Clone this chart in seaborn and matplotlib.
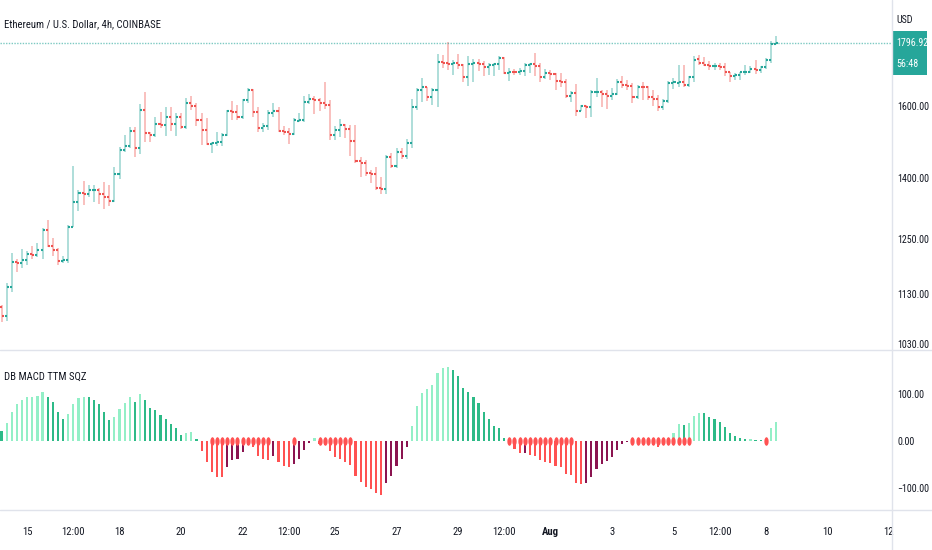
import numpy as np
import pandas as pd
import matplotlib
matplotlib.use("Agg")
import matplotlib.pyplot as plt
from matplotlib.lines import Line2D
from matplotlib.patches import Rectangle
from matplotlib.markers import MarkerStyle
from matplotlib.transforms import Affine2D
from matplotlib.ticker import FixedLocator, NullLocator
import seaborn as sns

# ETH/USD 4h bars (COINBASE)
opens = [1103, 1085, 1144, 1198, 1196, 1203, 1216, 1214, 1226, 1272,
         1235, 1226, 1201, 1203, 1279, 1340, 1361, 1359, 1368, 1369,
         1358, 1352, 1342, 1411, 1473, 1486, 1528, 1479, 1588, 1521,
         1516, 1547, 1544, 1568, 1547, 1568, 1537, 1608, 1600, 1558,
         1530, 1491, 1494, 1496, 1516, 1586, 1583, 1566, 1618, 1648,
         1581, 1535, 1541, 1578, 1585, 1528, 1525, 1519, 1556, 1559,
         1611, 1621, 1618, 1608, 1603, 1516, 1530, 1544, 1532, 1500,
         1445, 1439, 1414, 1410, 1374, 1371, 1455, 1432, 1470, 1458,
         1494, 1596, 1646, 1656, 1625, 1648, 1736, 1731, 1728, 1733,
         1724, 1689, 1729, 1731, 1728, 1719, 1726, 1729, 1748, 1699,
         1704, 1703, 1705, 1726, 1729, 1723, 1689, 1699, 1697, 1676,
         1673, 1630, 1638, 1586, 1600, 1596, 1640, 1642, 1636, 1628,
         1636, 1673, 1663, 1660, 1626, 1658, 1656, 1626, 1619, 1596,
         1615, 1670, 1668, 1673, 1663, 1687, 1744, 1733, 1726, 1721,
         1723, 1719, 1702, 1691, 1694, 1702, 1704, 1712, 1710, 1719,
         1740, 1795]
highs = [1107, 1153, 1218, 1205, 1228, 1223, 1234, 1241, 1275, 1295,
         1253, 1230, 1212, 1283, 1431, 1368, 1392, 1383, 1383, 1374,
         1389, 1383, 1428, 1483, 1516, 1539, 1539, 1606, 1640, 1525,
         1568, 1583, 1596, 1596, 1578, 1578, 1623, 1628, 1608, 1578,
         1563, 1497, 1525, 1521, 1588, 1614, 1603, 1620, 1653, 1650,
         1596, 1551, 1588, 1608, 1596, 1542, 1535, 1563, 1580, 1630,
         1636, 1630, 1623, 1673, 1618, 1540, 1561, 1547, 1544, 1544,
         1456, 1447, 1421, 1428, 1402, 1461, 1465, 1481, 1481, 1504,
         1620, 1653, 1685, 1658, 1653, 1761, 1758, 1802, 1740, 1761,
         1729, 1755, 1744, 1744, 1737, 1731, 1733, 1755, 1751, 1717,
         1714, 1717, 1731, 1733, 1763, 1733, 1714, 1710, 1701, 1699,
         1680, 1643, 1666, 1603, 1603, 1648, 1685, 1648, 1648, 1653,
         1680, 1691, 1679, 1668, 1663, 1673, 1660, 1648, 1633, 1620,
         1676, 1685, 1726, 1726, 1691, 1755, 1758, 1751, 1737, 1731,
         1733, 1733, 1704, 1699, 1704, 1726, 1723, 1740, 1723, 1748,
         1804, 1821]
lows = [1073, 1075, 1134, 1177, 1184, 1192, 1204, 1209, 1206, 1231,
        1212, 1192, 1195, 1197, 1278, 1318, 1332, 1351, 1338, 1334,
        1322, 1330, 1340, 1397, 1470, 1479, 1455, 1463, 1497, 1497,
        1511, 1535, 1513, 1528, 1513, 1532, 1532, 1588, 1542, 1488,
        1488, 1467, 1484, 1484, 1514, 1558, 1559, 1561, 1608, 1566,
        1523, 1523, 1530, 1566, 1523, 1516, 1491, 1517, 1552, 1552,
        1606, 1576, 1586, 1590, 1502, 1502, 1511, 1507, 1458, 1439,
        1403, 1405, 1388, 1369, 1359, 1359, 1425, 1425, 1449, 1449,
        1481, 1588, 1610, 1613, 1603, 1596, 1717, 1711, 1694, 1714,
        1673, 1660, 1673, 1706, 1691, 1694, 1691, 1711, 1697, 1676,
        1694, 1694, 1691, 1699, 1691, 1673, 1682, 1679, 1646, 1657,
        1623, 1610, 1570, 1584, 1564, 1568, 1627, 1596, 1590, 1618,
        1633, 1653, 1648, 1609, 1620, 1618, 1618, 1600, 1586, 1588,
        1609, 1650, 1658, 1658, 1658, 1673, 1726, 1721, 1710, 1710,
        1710, 1691, 1673, 1679, 1679, 1694, 1699, 1697, 1701, 1712,
        1733, 1794]
closes = [1085, 1144, 1198, 1196, 1203, 1216, 1214, 1226, 1272, 1235,
          1226, 1201, 1203, 1279, 1340, 1361, 1359, 1368, 1369, 1358,
          1352, 1342, 1411, 1473, 1486, 1528, 1479, 1588, 1521, 1516,
          1547, 1544, 1568, 1547, 1568, 1537, 1608, 1600, 1558, 1530,
          1491, 1494, 1496, 1516, 1586, 1583, 1566, 1618, 1648, 1581,
          1535, 1541, 1578, 1585, 1528, 1525, 1519, 1558, 1559, 1611,
          1621, 1618, 1608, 1603, 1516, 1530, 1544, 1532, 1500, 1445,
          1439, 1414, 1410, 1374, 1371, 1455, 1432, 1470, 1458, 1494,
          1596, 1646, 1656, 1625, 1648, 1734, 1731, 1728, 1733, 1724,
          1689, 1729, 1731, 1728, 1719, 1726, 1729, 1748, 1699, 1704,
          1703, 1705, 1726, 1729, 1723, 1689, 1699, 1697, 1676, 1673,
          1630, 1638, 1586, 1600, 1596, 1640, 1642, 1636, 1628, 1636,
          1673, 1663, 1660, 1626, 1658, 1656, 1626, 1619, 1596, 1615,
          1670, 1673, 1673, 1663, 1687, 1742, 1733, 1726, 1721, 1723,
          1719, 1702, 1691, 1694, 1702, 1704, 1712, 1710, 1719, 1740,
          1795, 1796.92]

# DB MACD TTM SQZ histogram
hist = [21, 39, 62, 78, 87, 93, 94, 95, 104, 94,
        82, 62, 47, 57, 78, 91, 94, 93, 87, 78,
        62, 45, 52, 68, 80, 93, 82, 101, 87, 71,
        66, 55, 46, 36, 27, 13, 18, 20, 4, -21,
        -44, -67, -76, -77, -56, -40, -39, -23, -8, -13,
        -32, -39, -40, -32, -44, -53, -56, -48, -39, -19,
        -4, 6, -6, -8, -21, -35, -39, -44, -51, -74,
        -87, -97, -103, -111, -115, -89, -74, -53, -38, -13,
        32, 74, 103, 110, 119, 144, 155, 157, 150, 138,
        112, 104, 93, 80, 62, 47, 32, 27, 6, -6,
        -16, -26, -25, -30, -31, -40, -44, -46, -53, -55,
        -70, -73, -90, -92, -90, -76, -60, -49, -42, -35,
        -19, -6, -2, -3, -4, -5, -6, -8, -12, -6,
        4, 16, 36, 35, 39, 53, 60, 59, 52, 47,
        41, 30, 18, 11, 6, 4, 5, 3, 2, 1,
        27, 40]
# squeeze-on runs (first bar, last bar)
squeeze_runs = [(41, 52), (57, 57), (62, 68), (99, 111), (123, 134), (149, 149)]

price_ticks = [1030, 1130, 1250, 1400, 1600]
osc_ticks = [-100, 0, 100]
tick_times = ["2022-07-15 00:00", "2022-07-16 12:00", "2022-07-18 00:00",
              "2022-07-20 00:00", "2022-07-22 00:00", "2022-07-23 12:00",
              "2022-07-25 00:00", "2022-07-27 00:00", "2022-07-29 00:00",
              "2022-07-30 12:00", "2022-08-01 00:00", "2022-08-03 00:00",
              "2022-08-05 00:00", "2022-08-06 12:00", "2022-08-08 00:00",
              "2022-08-10 00:00", "2022-08-12 00:00"]
tick_labels = ["15", "12:00", "18", "20", "22", "12:00", "25", "27", "29",
               "12:00", "Aug", "3", "5", "12:00", "8", "10", "12"]

bar_times = pd.date_range("2022-07-14 04:00", periods=len(closes), freq="4h")
df = pd.DataFrame({"open": opens, "high": highs, "low": lows, "close": closes,
                   "hist": hist}, index=bar_times)
df["x"] = np.arange(len(df))
tick_x = (pd.to_datetime(tick_times) - bar_times[0]) / pd.Timedelta("4h")

sns.set_theme(style="white")
plt.rcParams["font.family"] = ["Roboto Condensed", "Liberation Sans", "DejaVu Sans"]

UP, DOWN = "#26a69a", "#ef5350"
TXT = "#131722"
LINE = "#e0e3eb"
FS = 7.2

W, H = 932, 550
fig = plt.figure(figsize=(W / 100, H / 100), dpi=100)
ax_p = fig.add_axes([0, 1 - 349 / H, 892 / W, 349 / H])
ax_i = fig.add_axes([0, 1 - 509 / H, 892 / W, 159 / H], sharex=ax_p)

# OHLC bars
up = df["close"] >= df["open"]
col = np.where(up, UP, DOWN)
ax_p.vlines(df["x"], df["low"], df["high"], colors=col, lw=1.3, alpha=0.4)
ax_p.hlines(df["open"], df["x"] - 0.4, df["x"], colors=col, lw=1.5)
ax_p.hlines(df["close"], df["x"], df["x"] + 0.4, colors=col, lw=1.5)

last = closes[-1]
ax_p.axhline(last, color=UP, lw=1, ls=(0, (1, 1)), alpha=0.6)

ax_p.set_yscale("log")
ax_p.set_ylim(1020, 1946)
ax_p.set_xlim(-0.3, 173.6)
ax_p.yaxis.set_major_locator(FixedLocator(price_ticks))
ax_p.yaxis.set_minor_locator(NullLocator())
ax_p.set_yticklabels([f"{t:.2f}" for t in price_ticks])

# oscillator histogram
prev = df["hist"].shift(1).fillna(df["hist"].iloc[0])
hcol = np.where(df["hist"] >= 0,
                np.where(df["hist"] > prev, "#93efc7", "#2dba87"),
                np.where(df["hist"] < prev, "#ff5252", "#8b1450"))
ax_i.bar(df["x"], df["hist"], width=0.42, color=hcol, linewidth=0)

sq_x = [i for a, b in squeeze_runs for i in range(a, b + 1)]
dot = MarkerStyle("o", transform=Affine2D().scale(0.5, 1.0))
sns.scatterplot(x=sq_x, y=[0] * len(sq_x), marker=dot, s=38, color="#ff5252",
                linewidth=0, ax=ax_i, legend=False, zorder=3)

ax_i.set_ylim(-144.7, 193.6)
ax_i.yaxis.set_major_locator(FixedLocator(osc_ticks))
ax_i.set_yticklabels(["\u2212100.00", "0.00", "100.00"])
ax_i.set_xticks(tick_x)
ax_i.set_xticklabels(tick_labels)
for lab in ax_i.get_xticklabels():
    if lab.get_text() == "Aug":
        lab.set_fontweight("bold")

for ax in (ax_p, ax_i):
    ax.set_facecolor("white")
    for s in ax.spines.values():
        s.set_visible(False)
    ax.yaxis.tick_right()
    ax.tick_params(axis="y", length=0, pad=3.6, labelsize=FS, labelcolor=TXT)
    ax.grid(False)
ax_p.tick_params(axis="x", bottom=False, labelbottom=False)
ax_i.tick_params(axis="x", length=0, pad=13, labelsize=FS + 0.5, labelcolor=TXT)

# pane separators and price scale border
fig.add_artist(Line2D([892 / W, 892 / W], [0, 1], color=LINE, lw=1))
fig.add_artist(Line2D([0, 1], [1 - 349.5 / H] * 2, color=LINE, lw=1))
fig.add_artist(Line2D([0, 1], [1 - 509.5 / H] * 2, color=LINE, lw=1))

# last price tag on the price scale
y_disp = ax_p.transData.transform((0, last))[1]
yf = y_disp / H
fig.add_artist(Rectangle((892 / W, yf - 32 / H), 35 / W, 44 / H,
                         transform=fig.transFigure, color=UP, lw=0))
fig.text(896 / W, yf, f"{last:.2f}", color="white", fontsize=FS, va="center")
fig.text(896 / W, yf - 21 / H, "56:48", color="white", fontsize=FS, va="center")
fig.text(896 / W, 1 - 20 / H, "USD", color=TXT, fontsize=FS, va="center")

fig.text(4 / W, 1 - 24 / H, "Ethereum / U.S. Dollar, 4h, COINBASE", color=TXT,
         fontsize=FS + 0.5, va="center")
fig.text(4 / W, 1 - 377 / H, "DB MACD TTM SQZ", color=TXT, fontsize=FS + 0.5,
         va="center")

fig.savefig("out.png", dpi=100, facecolor="white")
